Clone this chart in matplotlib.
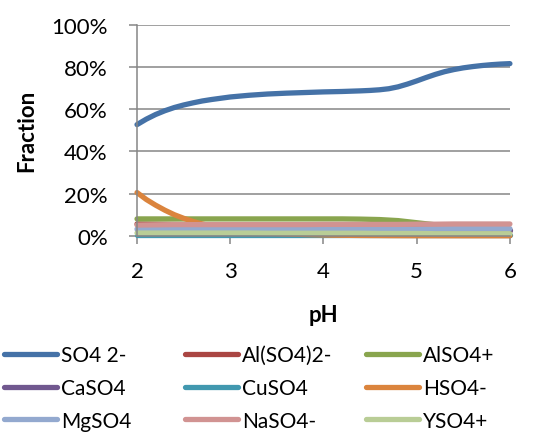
import matplotlib
matplotlib.use("Agg")
import matplotlib.pyplot as plt
from matplotlib.ticker import PercentFormatter

plt.rcParams["font.family"] = ["Lato", "DejaVu Sans"]

# coarse pH grid for the minor species
ph = [2.0, 2.2, 2.4, 2.6, 2.8, 3.0, 3.2, 3.4, 3.6, 3.8, 4.0,
      4.2, 4.4, 4.6, 4.8, 5.0, 5.2, 5.4, 5.6, 5.8, 6.0]
# finer grid for the two curves that bend the most
ph_fine = [2.0, 2.1, 2.2, 2.3, 2.4, 2.5, 2.6, 2.7, 2.8, 2.9, 3.0,
           3.1, 3.2, 3.3, 3.4, 3.5, 3.6, 3.7, 3.8, 3.9, 4.0,
           4.1, 4.2, 4.3, 4.4, 4.5, 4.6, 4.7, 4.8, 4.9, 5.0,
           5.1, 5.2, 5.3, 5.4, 5.5, 5.6, 5.7, 5.8, 5.9, 6.0]

so4 = [52.7, 55.3, 57.5, 59.3, 60.8, 62.0, 63.0, 63.9, 64.6, 65.2, 65.8,
       66.2, 66.6, 66.9, 67.2, 67.4, 67.6, 67.75, 67.9, 68.05, 68.2,
       68.3, 68.4, 68.55, 68.7, 68.9, 69.2, 69.7, 70.6, 71.9, 73.4,
       75.0, 76.5, 77.8, 78.8, 79.6, 80.2, 80.7, 81.1, 81.4, 81.6]
hso4 = [20.5, 17.2, 14.5, 12.1, 10.0, 8.3, 6.8, 5.6, 4.6, 3.8, 3.1,
        2.6, 2.1, 1.7, 1.4, 1.1, 0.9, 0.75, 0.6, 0.5, 0.4,
        0.3, 0.25, 0.2, 0.15, 0.12, 0.1, 0.07, 0.05, 0.04, 0.03,
        0.02, 0.02, 0.01, 0.01, 0.0, 0.0, 0.0, 0.0, 0.0, 0.0]

al_so4_2 = [5.6, 5.5, 5.4, 5.3, 5.2, 5.1, 5.0, 4.9, 4.8, 4.7, 4.6,
            4.5, 4.4, 4.3, 4.1, 3.8, 3.4, 3.0, 2.6, 2.3, 2.0]
also4 = [8.0, 8.0, 8.0, 8.0, 8.0, 8.0, 8.0, 8.0, 8.0, 8.0, 8.0,
         8.0, 7.9, 7.7, 7.2, 6.2, 5.2, 4.3, 3.6, 3.0, 2.5]
caso4 = [2.6, 2.6, 2.6, 2.6, 2.6, 2.6, 2.6, 2.6, 2.6, 2.6, 2.6,
         2.6, 2.6, 2.6, 2.6, 2.6, 2.6, 2.6, 2.6, 2.6, 2.6]
cuso4 = [0.2, 0.2, 0.2, 0.2, 0.2, 0.2, 0.2, 0.2, 0.2, 0.2, 0.2,
         0.2, 0.2, 0.2, 0.2, 0.2, 0.2, 0.2, 0.2, 0.2, 0.2]
mgso4 = [3.2, 3.2, 3.2, 3.2, 3.2, 3.2, 3.2, 3.2, 3.2, 3.2, 3.3,
         3.3, 3.3, 3.3, 3.3, 3.3, 3.4, 3.4, 3.4, 3.4, 3.4]
naso4 = [5.1, 5.2, 5.3, 5.3, 5.3, 5.3, 5.3, 5.3, 5.3, 5.3, 5.4,
         5.4, 5.4, 5.4, 5.4, 5.5, 5.5, 5.6, 5.6, 5.6, 5.6]
yso4 = [1.3, 1.3, 1.3, 1.3, 1.3, 1.3, 1.3, 1.2, 1.2, 1.2, 1.2,
        1.2, 1.2, 1.1, 1.1, 1.1, 1.0, 1.0, 1.0, 1.0, 1.0]

labels = ["SO4 2-", "Al(SO4)2-", "AlSO4+", "CaSO4", "CuSO4", "HSO4-",
          "MgSO4", "NaSO4-", "YSO4+"]
xs = [ph_fine, ph, ph, ph, ph, ph_fine, ph, ph, ph]
series = [so4, al_so4_2, also4, caso4, cuso4, hso4, mgso4, naso4, yso4]
colors = ["#4572A7", "#AA4643", "#89A54E", "#71588F", "#4198AF", "#DB843D",
          "#93A9CF", "#D19392", "#B9CD96"]

grid_c = "#868686"

fig = plt.figure(figsize=(5.42, 4.39), dpi=100)
ax = fig.add_axes([0.2528, 0.4606, 0.688, 0.4806])

lines = []
for x, y, lab, c in zip(xs, series, labels, colors):
    ln, = ax.plot(x, y, color=c, lw=3.8, label=lab,
                  solid_capstyle="round", solid_joinstyle="round",
                  clip_on=False)
    lines.append(ln)

ax.set_xlim(2, 6)
ax.set_ylim(0, 100)
ax.set_xticks([2, 3, 4, 5, 6])
ax.set_yticks(range(0, 101, 20))
ax.yaxis.set_major_formatter(PercentFormatter(decimals=0))
ax.grid(axis="y", color=grid_c, lw=1.1)
ax.set_axisbelow(True)
for s in ("top", "right"):
    ax.spines[s].set_visible(False)
for s in ("left", "bottom"):
    ax.spines[s].set_color(grid_c)
    ax.spines[s].set_linewidth(1.1)
ax.tick_params(axis="both", direction="out", length=6, width=1.1,
               color=grid_c, labelsize=16)
ax.tick_params(axis="x", pad=12)
ax.tick_params(axis="y", pad=15)

ax.set_xlabel("pH", fontsize=16, fontweight="bold", labelpad=17)
ax.set_ylabel("Fraction", fontsize=16, fontweight="bold", labelpad=10)

# legend laid out as three fixed-width columns
col_x = [0.0074, 0.341, 0.675]
for i, x0 in enumerate(col_x):
    fig.legend(handles=lines[i::3], loc="upper left",
               bbox_to_anchor=(x0, 0.212), frameon=False,
               fontsize=15, handlelength=2.55, handletextpad=0.2,
               borderpad=0, borderaxespad=0, labelspacing=0.62)

fig.savefig("out.png", dpi=100)
